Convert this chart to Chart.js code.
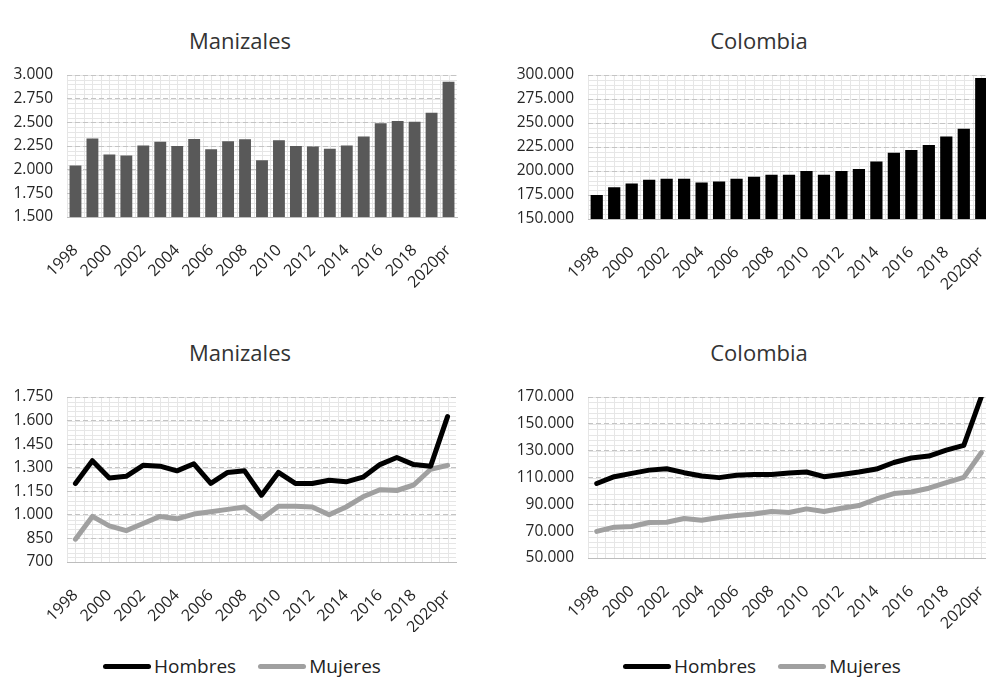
<!DOCTYPE html>
<html>
<head>
<meta charset="utf-8">
<script src="https://cdn.jsdelivr.net/npm/chart.js@4.4.0/dist/chart.umd.min.js"></script>
<style>
  html, body { margin: 0; padding: 0; background: #fff; }
  #wrap { position: relative; width: 986px; height: 679px; overflow: hidden; font-family: "Open Sans", sans-serif; }
  canvas { position: absolute; }
  .ttl { position: absolute; font-size: 22px; line-height: 1; color: #333; transform: translateX(-50%); white-space: nowrap; }
  .leg { position: absolute; display: flex; align-items: center; font-size: 19px; line-height: 26px; color: #222; white-space: nowrap; }
  .leg .item { display: flex; align-items: center; margin-right: 22px; }
  .leg .ln { display: inline-block; width: 48px; height: 5px; border-radius: 3px; margin-right: 3px; }
</style>
</head>
<body>
<div id="wrap">
  <div class="ttl" style="left:240px;top:29px">Manizales</div>
  <div class="ttl" style="left:759px;top:29px">Colombia</div>
  <div class="ttl" style="left:240px;top:341px">Manizales</div>
  <div class="ttl" style="left:759px;top:341px">Colombia</div>

  <canvas id="c1" width="470" height="300" style="left:0;top:0"></canvas>
  <canvas id="c2" width="510" height="300" style="left:490px;top:0"></canvas>
  <canvas id="c3" width="470" height="320" style="left:0;top:312px"></canvas>
  <canvas id="c4" width="510" height="320" style="left:490px;top:312px"></canvas>

  <div class="leg" id="leg3" style="left:103px;top:653px"></div>
  <div class="leg" id="leg4" style="left:623px;top:653px"></div>
</div>
<script>
// categories
const years = ['1998', '1999', '2000', '2001', '2002', '2003', '2004', '2005', '2006', '2007', '2008',
  '2009', '2010', '2011', '2012', '2013', '2014', '2015', '2016', '2017', '2018', '2019', '2020pr'];

// totals (bars)
const manizalesTotal = [2045, 2330, 2160, 2150, 2255, 2295, 2250, 2325, 2215, 2300, 2320,
  2100, 2310, 2250, 2245, 2220, 2255, 2350, 2490, 2515, 2505, 2600, 2930];
const colombiaTotal = [175000, 183000, 187000, 191000, 192000, 192000, 188000, 189000, 192000, 194000, 196000,
  196000, 200000, 196000, 200000, 202000, 210000, 219000, 222000, 227000, 236000, 244000, 297000];

// by sex (lines)
const seriesNames = ['Hombres', 'Mujeres'];
const seriesColors = ['#000000', '#a0a0a0'];
const manizalesHombres = [1200, 1345, 1235, 1245, 1315, 1310, 1280, 1325, 1200, 1270, 1280,
  1125, 1270, 1200, 1200, 1220, 1210, 1240, 1320, 1365, 1320, 1310, 1625];
const manizalesMujeres = [845, 990, 930, 900, 945, 990, 975, 1005, 1020, 1035, 1050,
  975, 1055, 1055, 1050, 1000, 1050, 1115, 1160, 1155, 1190, 1290, 1315];
const colombiaHombres = [105500, 110600, 113100, 115500, 116500, 113600, 111100, 109900, 111600, 112300, 112300,
  113300, 114100, 110600, 112300, 114100, 116300, 121200, 124500, 126000, 130400, 133900, 170000];
const colombiaMujeres = [69800, 73000, 73500, 76500, 76700, 79400, 78200, 80200, 81700, 82800, 84600,
  83900, 86600, 84600, 87100, 89100, 94000, 98000, 99200, 102000, 106200, 110100, 128400];

// y tick labels
const ticksManizalesTotal = [1500, 1750, 2000, 2250, 2500, 2750, 3000];
const ticksColombiaTotal = [150000, 175000, 200000, 225000, 250000, 275000, 300000];
const ticksManizalesSexo = [700, 850, 1000, 1150, 1300, 1450, 1600, 1750];
const ticksColombiaSexo = [50000, 70000, 90000, 110000, 130000, 150000, 170000];

const fmt = n => String(n).replace(/\B(?=(\d{3})+(?!\d))/g, '.');
const FONT = '"Open Sans", sans-serif';

// light minor grid behind the dashed major lines
const minorGrid = {
  id: 'minorGrid',
  beforeDraw(chart, args, opts) {
    const { ctx, chartArea: a, scales: { x, y } } = chart;
    ctx.save();
    ctx.beginPath();
    ctx.rect(a.left, a.top, a.right - a.left, a.bottom - a.top);
    ctx.clip();
    ctx.strokeStyle = '#e6e6e6';
    ctx.lineWidth = 1;
    ctx.beginPath();
    for (let v = y.min; v <= y.max + 1e-6; v += opts.step) {
      const py = Math.round(y.getPixelForValue(v)) + 0.5;
      ctx.moveTo(a.left, py);
      ctx.lineTo(a.right, py);
    }
    for (let i = -0.5; i <= years.length - 0.5 + 1e-6; i += 0.5) {
      const px = Math.round(x.getPixelForValue(i)) + 0.5;
      ctx.moveTo(px, a.top);
      ctx.lineTo(px, a.bottom);
    }
    ctx.stroke();
    ctx.restore();
  }
};

function makeChart(id, type, datasets, ticks, lay) {
  const step = ticks[1] - ticks[0];
  new Chart(document.getElementById(id), {
    type: type,
    data: { labels: years, datasets: datasets },
    options: {
      responsive: false,
      animation: false,
      devicePixelRatio: 1,
      layout: { padding: { top: lay.top, right: lay.right, left: 0, bottom: 0 } },
      plugins: {
        legend: { display: false },
        tooltip: { enabled: false },
        minorGrid: { step: step / 5 }
      },
      scales: {
        x: {
          offset: true,
          grid: { display: false },
          border: { display: true, color: '#bdbdbd' },
          ticks: {
            autoSkip: false,
            minRotation: 45,
            maxRotation: 45,
            padding: 16,
            color: '#262626',
            font: { family: FONT, size: 16 },
            callback: (v, i) => (i % 2 === 0 ? years[i] : '')
          },
          afterFit: s => { s.height = lay.xh; s.paddingLeft = 0; s.paddingRight = 0; }
        },
        y: {
          min: ticks[0],
          max: ticks[ticks.length - 1],
          border: { display: false, dash: [5, 3] },
          grid: { color: '#c4c4c4', drawTicks: false },
          ticks: {
            stepSize: step,
            padding: 14,
            color: '#262626',
            font: { family: FONT, size: 15.5 },
            callback: v => fmt(v)
          },
          afterFit: s => { s.width = lay.yw; }
        }
      }
    },
    plugins: [minorGrid]
  });
}

function bars(data, color) {
  return [{ data: data, backgroundColor: color, barPercentage: 0.7, categoryPercentage: 1 }];
}
function lines(h, m) {
  return [h, m].map((d, k) => ({
    label: seriesNames[k], data: d, borderColor: seriesColors[k], backgroundColor: seriesColors[k],
    borderWidth: 5, pointRadius: 0, tension: 0, borderJoinStyle: 'round', borderCapStyle: 'round'
  }));
}

makeChart('c1', 'bar', bars(manizalesTotal, '#595959'), ticksManizalesTotal, { top: 75, right: 13, yw: 67, xh: 83 });
makeChart('c2', 'bar', bars(colombiaTotal, '#000000'), ticksColombiaTotal, { top: 75, right: 10, yw: 98, xh: 81 });
makeChart('c3', 'line', lines(manizalesHombres, manizalesMujeres), ticksManizalesSexo, { top: 85, right: 14, yw: 67, xh: 70 });
makeChart('c4', 'line', lines(colombiaHombres, colombiaMujeres), ticksColombiaSexo, { top: 85, right: 10, yw: 98, xh: 74 });

// legends
['leg3', 'leg4'].forEach(id => {
  document.getElementById(id).innerHTML = seriesNames.map((n, k) =>
    '<span class="item"><span class="ln" style="background:' + seriesColors[k] + '"></span>' + n + '</span>').join('');
});
</script>
</body>
</html>
